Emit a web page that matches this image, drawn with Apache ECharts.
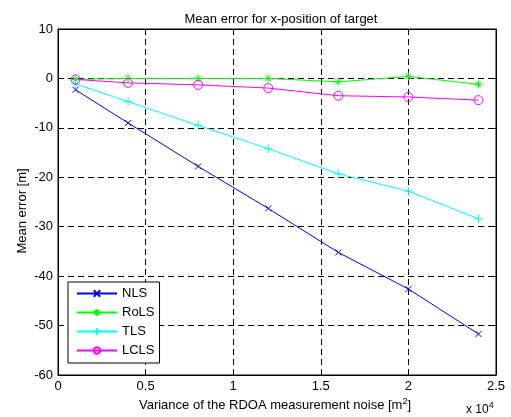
<!DOCTYPE html>
<html><head><meta charset="utf-8">
<script src="https://cdn.jsdelivr.net/npm/echarts@6/dist/echarts.min.js"></script>
<style>html,body{margin:0;padding:0;background:#fff}#c{width:511px;height:417px}</style>
</head><body><div id="c"></div>
<script>
// x values in units of 10^4 m^2
const xVals = [0.1, 0.4, 0.8, 1.2, 1.6, 2.0, 2.4];
const nls  = [-2.3, -9.0, -17.8, -26.3, -35.2, -42.6, -51.7];
const rols = [-0.2, 0.0, 0.0, 0.0, -0.7, 0.4, -1.2];
const tls  = [-1.1, -4.7, -9.5, -14.2, -19.3, -22.8, -28.4];
const lcls = [-0.2, -0.9, -1.3, -1.95, -3.5, -3.75, -4.4];
const seriesNames = ['NLS', 'RoLS', 'TLS', 'LCLS'];
const xTicks = [0, 0.5, 1, 1.5, 2, 2.5];
const yTicks = [-60, -50, -40, -30, -20, -10, 0, 10];

const FONT = 'Liberation Sans';
const FS = 13;
const pair = (ys) => xVals.map((x, i) => [x, ys[i]]);
const xSym = 'path://M0,0L10,10M10,0L0,10';
const starSym = 'path://M5,0L5,10M0,5L10,5M1.5,1.5L8.5,8.5M8.5,1.5L1.5,8.5';
const plusSym = 'path://M5,0L5,10M0,5L10,5';
const circSym = 'path://M10,5A5,5,0,1,1,0,5A5,5,0,1,1,10,5Z';

function mk(name, ys, color, symbol, size) {
  return {
    name, type: 'line', data: pair(ys), symbol, symbolSize: size,
    showSymbol: true, showAllSymbol: true,
    lineStyle: { color, width: 1, type: 'solid' },
    itemStyle: { color: 'none', borderColor: color, borderWidth: 1 },
    emphasis: { disabled: true },
    animation: false, z: 5
  };
}

const chart = echarts.init(document.getElementById('c'), null, { renderer: 'canvas' });
const gridStyle = () => ({ show: true, lineStyle: { color: '#000', type: [6, 4], width: 1 } });
const edgeAxis = () => ({
  axisLine: { show: true, onZero: false, lineStyle: { color: '#000' } },
  axisTick: { show: true, inside: true, length: 5, lineStyle: { color: '#000' } }
});
chart.setOption({
  animation: false,
  textStyle: { fontFamily: FONT },
  title: {
    text: 'Mean error for x-position of target', left: 276, top: 8, textAlign: 'center',
    textStyle: { fontFamily: FONT, fontSize: FS, fontWeight: 'normal', color: '#000' }
  },
  grid: { left: 58, right: 15, top: 29, bottom: 42, show: true, borderColor: '#000', borderWidth: 1, backgroundColor: '#fff' },
  xAxis: [Object.assign({
    type: 'value', min: 0, max: 2.5, interval: 0.5,
    axisLabel: { color: '#000', fontSize: FS, fontFamily: FONT, margin: 5,
      formatter: v => (xTicks.includes(v) ? String(v) : '') },
    splitLine: gridStyle()
  }, edgeAxis()), Object.assign({
    type: 'value', min: 0, max: 2.5, interval: 0.5, position: 'top',
    axisLabel: { show: false }, splitLine: { show: false }
  }, edgeAxis())],
  yAxis: [Object.assign({
    type: 'value', min: -60, max: 10, interval: 10,
    axisLabel: { color: '#000', fontSize: FS, fontFamily: FONT, margin: 5,
      formatter: v => (yTicks.includes(v) ? String(v) : '') },
    splitLine: gridStyle()
  }, edgeAxis()), Object.assign({
    type: 'value', min: -60, max: 10, interval: 10, position: 'right',
    axisLabel: { show: false }, splitLine: { show: false }
  }, edgeAxis())],
  legend: {
    data: seriesNames, orient: 'vertical', left: 68, top: 282,
    padding: [4, 5, 5, 8], itemGap: 4, itemWidth: 40, itemHeight: 8,
    backgroundColor: '#fff', borderColor: '#000', borderWidth: 1, borderRadius: 0,
    textStyle: { color: '#000', fontSize: FS, fontFamily: FONT, lineHeight: 15 },
    selectedMode: false
  },
  graphic: [
    { type: 'text', x: 22, y: 211, rotation: Math.PI / 2,
      style: { text: 'Mean error [m]', align: 'center', verticalAlign: 'middle', fontSize: FS, fontFamily: FONT, fill: '#000' } },
    { type: 'text', x: 275, y: 405,
      style: { align: 'center', verticalAlign: 'middle',
        rich: { n: { fontSize: FS, fontFamily: FONT, fill: '#000' }, s: { fontSize: 9, fontFamily: FONT, fill: '#000', padding: [0,0,7,0] } },
        text: '{n|Variance of the RDOA measurement noise [m}{s|2}{n|]}' } },
    { type: 'text', x: 466, y: 410,
      style: { align: 'left', verticalAlign: 'middle',
        rich: { n: { fontSize: 12, fontFamily: FONT, fill: '#000' }, s: { fontSize: 9, fontFamily: FONT, fill: '#000', padding: [0,0,8,0] } },
        text: '{n|x 10}{s|4}' } }
  ],
  series: [
    mk('NLS', nls, '#0000ff', xSym, 6),
    mk('RoLS', rols, '#00ff00', starSym, 8),
    mk('TLS', tls, '#00ffff', plusSym, 9),
    mk('LCLS', lcls, '#ff00ff', circSym, 9)
  ]
});
</script></body></html>
